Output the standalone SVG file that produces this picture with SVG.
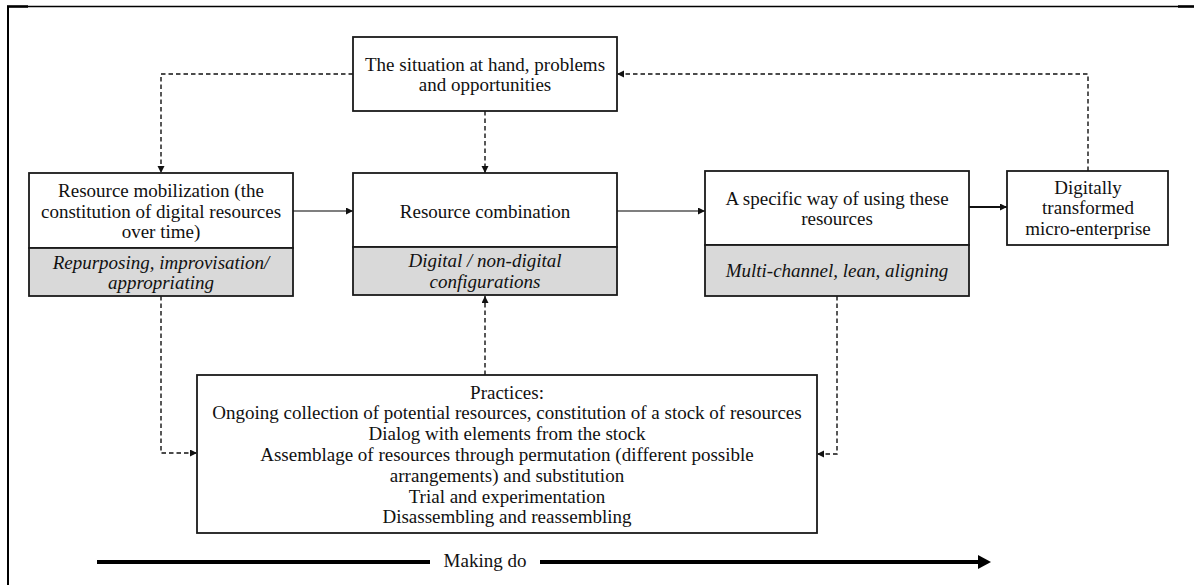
<svg xmlns="http://www.w3.org/2000/svg" width="1194" height="585" viewBox="0 0 1194 585">
<style>
text{font-family:"Liberation Serif","Times New Roman",serif;font-size:19px;fill:#111;text-anchor:middle}
.it{font-style:italic}
.box{fill:#fff;stroke:#1a1a1a;stroke-width:1.8}
.gray{fill:#d9d9d9;stroke:#1a1a1a;stroke-width:1.8}
.dash{fill:none;stroke:#111;stroke-width:1.4;stroke-dasharray:4.5 3}
.solid{fill:none;stroke:#555;stroke-width:1.4}
</style>
<defs>
<marker id="ah" markerUnits="userSpaceOnUse" markerWidth="8" markerHeight="8" refX="7" refY="3.5" orient="auto">
<path d="M0,0 L7,3.5 L0,7 z" fill="#111"/>
</marker>
</defs>
<g id="frame">
<line x1="8" y1="6" x2="8" y2="585" stroke="#000" stroke-width="2"/>
<line x1="7" y1="6.5" x2="1194" y2="6.5" stroke="#000" stroke-width="1.3"/>
<line x1="7" y1="6.5" x2="28" y2="6.5" stroke="#000" stroke-width="2.5"/>
<line x1="1178" y1="6.5" x2="1194" y2="6.5" stroke="#000" stroke-width="2.5"/>
</g>
<g id="connectors">
<path class="dash" d="M353,74 H161 V173" marker-end="url(#ah)"/>
<path class="dash" d="M485,111 V173" marker-end="url(#ah)"/>
<path class="dash" d="M1088,171 V74 H617" marker-end="url(#ah)"/>
<path class="dash" d="M485,375 V296" marker-end="url(#ah)"/>
<path class="dash" d="M161,296 V453 H197" marker-end="url(#ah)"/>
<path class="dash" d="M837,296 V454 H817" marker-end="url(#ah)"/>
<path class="solid" d="M293,211 H353" marker-end="url(#ah)"/>
<path class="solid" d="M617,211 H705" marker-end="url(#ah)"/>
<path d="M969,207 H1007" fill="none" stroke="#111" stroke-width="2" marker-end="url(#ah)"/>
</g>
<g id="situation">
<rect class="box" x="353" y="37" width="264" height="74"/>
<text x="485" y="71">The situation at hand, problems</text>
<text x="485" y="91">and opportunities</text>
</g>
<g id="mobilization">
<rect class="box" x="29" y="173" width="264" height="75"/>
<rect class="gray" x="29" y="248" width="264" height="48"/>
<text x="161" y="197">Resource mobilization (the</text>
<text x="161" y="218">constitution of digital resources</text>
<text x="161" y="238">over time)</text>
<text class="it" x="161" y="269">Repurposing, improvisation/</text>
<text class="it" x="161" y="289">appropriating</text>
</g>
<g id="combination">
<rect class="box" x="353" y="173" width="264" height="74"/>
<rect class="gray" x="353" y="247" width="264" height="48"/>
<text x="485" y="218">Resource combination</text>
<text class="it" x="485" y="267">Digital / non-digital</text>
<text class="it" x="485" y="288">configurations</text>
</g>
<g id="specific">
<rect class="box" x="705" y="171" width="264" height="74" stroke-width="2"/>
<rect class="gray" x="705" y="245" width="264" height="51" stroke-width="2"/>
<text x="837" y="205">A specific way of using these</text>
<text x="837" y="225">resources</text>
<text class="it" x="837" y="277">Multi-channel, lean, aligning</text>
</g>
<g id="digitally">
<rect class="box" x="1007" y="171" width="161" height="74"/>
<text x="1088" y="194">Digitally</text>
<text x="1088" y="214">transformed</text>
<text x="1088" y="235">micro-enterprise</text>
</g>
<g id="practices">
<rect class="box" x="197" y="375" width="620" height="158"/>
<text x="507" y="399">Practices:</text>
<text x="507" y="419">Ongoing collection of potential resources, constitution of a stock of resources</text>
<text x="507" y="440">Dialog with elements from the stock</text>
<text x="507" y="461">Assemblage of resources through permutation (different possible</text>
<text x="507" y="482">arrangements) and substitution</text>
<text x="507" y="503">Trial and experimentation</text>
<text x="507" y="523">Disassembling and reassembling</text>
</g>
<g id="making-do">
<line x1="97" y1="562" x2="430" y2="562" stroke="#000" stroke-width="4"/>
<line x1="540" y1="562" x2="980" y2="562" stroke="#000" stroke-width="4"/>
<polygon points="978,555 991,562 978,569" fill="#000"/>
<text x="485" y="567">Making do</text>
</g>
</svg>
